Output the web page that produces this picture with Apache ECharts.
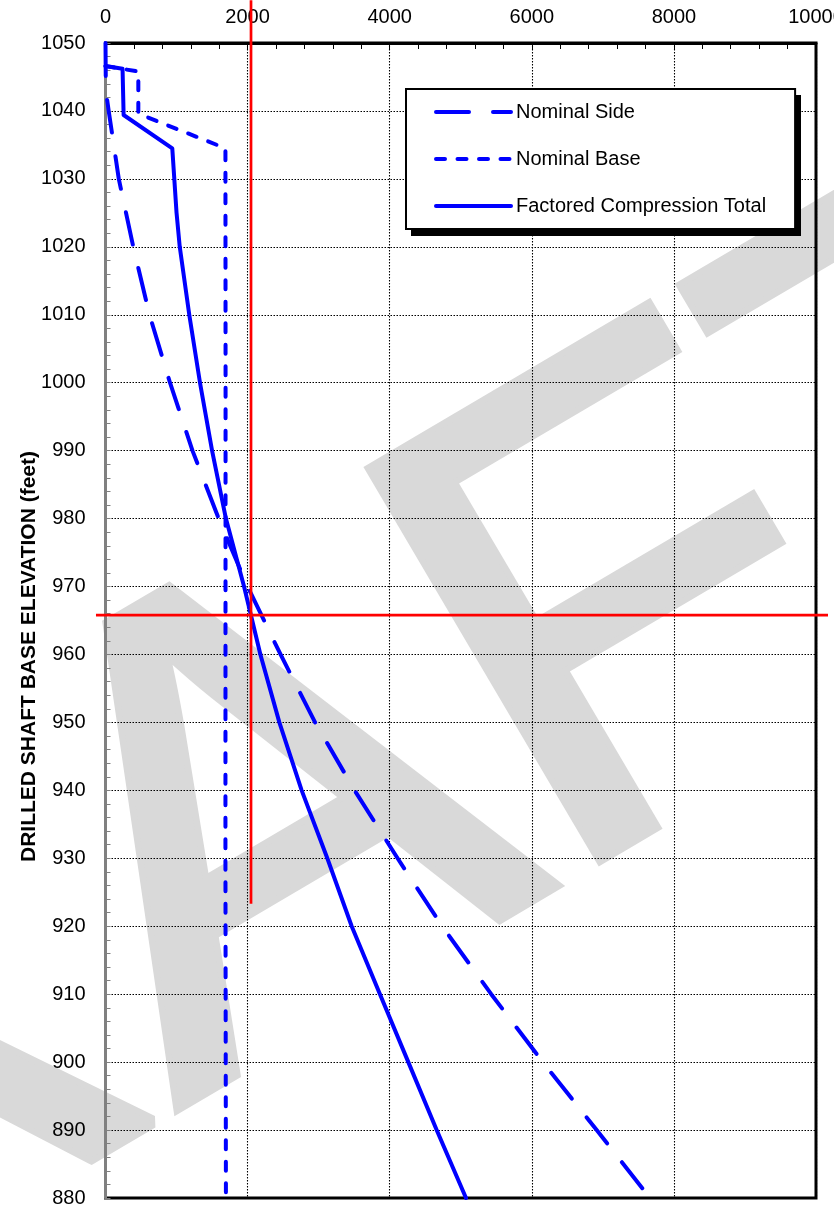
<!DOCTYPE html>
<html><head><meta charset="utf-8">
<script src="https://cdn.jsdelivr.net/npm/echarts@6/dist/echarts.min.js"></script>
<style>html,body{margin:0;padding:0;background:#fff}#c{width:834px;height:1207px}</style>
</head><body><div id="c"></div>
<script>
// ---- data (x = resistance, y = elevation in feet) ----
const sideElev  = [1050, 1043, 1040, 1030, 1020, 1010, 1000, 990, 980, 970, 960, 950, 940, 930, 920, 910, 900, 890, 880];
const sideVals  = [0, 5, 45, 187, 391, 619, 908, 1224, 1593, 1999, 2464, 2950, 3506, 4111, 4738, 5429, 6155, 6913, 7664];

const baseElev  = [1046.6, 1045.8, 1039.6, 1034.5, 1000, 930, 880];
const baseVals  = [0, 462, 462, 1688, 1690, 1688, 1695];

const totalElev = [1046.6, 1046.2, 1039.4, 1034.5, 1025, 1020, 1010, 1000, 990, 980, 970, 960, 950, 940, 930, 920, 910, 900, 890, 880];
const totalVals = [0, 240, 255, 940, 1000, 1045, 1179, 1330, 1500, 1695, 1950, 2180, 2447, 2761, 3122, 3465, 3863, 4262, 4661, 5074];

// red reference lines
const refVX = 2048, refVTop = 1056.3, refVBottom = 923.3;
const refHY = 965.8, refHLeft = -134, refHRight = 10169;

const xTicks = [0, 2000, 4000, 6000, 8000, 10000];
const yTicks = [880, 890, 900, 910, 920, 930, 940, 950, 960, 970, 980, 990, 1000, 1010, 1020, 1030, 1040, 1050];
const seriesNames = ['Nominal Side', 'Nominal Base', 'Factored Compression Total'];
const yTitle = 'DRILLED SHAFT BASE ELEVATION (feet)';
const watermark = 'DRAFT';

const pairs = (vals, elev) => vals.map((v, i) => [v, elev[i]]);
const FONT = "'Liberation Sans', Arial, sans-serif";
const BLUE = '#0000ff';
const RED = '#ff0000';
const GRID_LINE = {type: [1.5, 1.5], color: '#000', width: 1.1};

const chart = echarts.init(document.getElementById('c'), null, {renderer: 'canvas'});
const graphics = [
  {id: 'wm', type: 'text', z: -10, silent: true,
   x: 212, y: 877, rotation: 30.5 * Math.PI / 180,
   style: {text: watermark, fontSize: 655, fontFamily: FONT, fill: '#d9d9d9',
           stroke: '#d9d9d9', lineWidth: 13, lineJoin: 'miter',
           align: 'center', verticalAlign: 'middle'}},
  // legend drop shadow
  {id: 'legendShadow', type: 'rect', z: 3, silent: true, shape: {x: 411, y: 95, width: 390, height: 141}, style: {fill: '#000'}}
];
chart.setOption({
  animation: false,
  backgroundColor: '#ffffff',
  textStyle: {fontFamily: FONT},
  graphic: graphics,
  grid: {left: 105.5, right: 18, top: 43, bottom: 9, show: true, borderColor: '#000', borderWidth: 3,
         backgroundColor: 'transparent', containLabel: false, outerBoundsMode: 'none'},
  legend: {
    orient: 'vertical', left: 406, top: 89, z: 5,
    data: seriesNames,
    itemWidth: 75, itemHeight: 20, itemGap: 27,
    padding: [13, 29, 13, 28],
    backgroundColor: '#fff', borderColor: '#000', borderWidth: 2, borderRadius: 0,
    itemStyle: {opacity: 0},
    lineStyle: {width: 4, cap: 'round'},
    textStyle: {fontSize: 20, color: '#000', fontFamily: FONT},
    selectedMode: false
  },
  xAxis: {
    type: 'value', position: 'top', min: xTicks[0], max: xTicks[xTicks.length - 1], interval: 2000,
    axisLine: {show: true, onZero: false, lineStyle: {color: '#000', width: 3}},
    axisTick: {show: true, inside: true, length: 6, lineStyle: {color: '#000', width: 1}},
    minorTick: {show: true, splitNumber: 5, length: 6, lineStyle: {color: '#000', width: 1}},
    axisLabel: {fontSize: 20, color: '#000', margin: 16, fontFamily: FONT, formatter: v => String(v)},
    splitLine: {show: true, lineStyle: GRID_LINE}
  },
  yAxis: {
    type: 'value', min: yTicks[0], max: yTicks[yTicks.length - 1], interval: 10,
    name: yTitle, nameLocation: 'middle', nameGap: 66, nameMoveOverlap: false,
    nameTextStyle: {fontSize: 21, fontWeight: 'bold', color: '#000', fontFamily: FONT, padding: [0, 72, 0, 0]},
    axisLine: {show: true, onZero: false, lineStyle: {color: '#808080', width: 3}},
    axisTick: {show: true, inside: true, length: 5, lineStyle: {color: '#808080', width: 1}},
    minorTick: {show: true, splitNumber: 5, length: 5, lineStyle: {color: '#808080', width: 1}},
    axisLabel: {fontSize: 20, color: '#000', margin: 20, fontFamily: FONT, formatter: v => String(v)},
    splitLine: {show: true, lineStyle: GRID_LINE}
  },
  series: [
    {name: seriesNames[0], type: 'line', data: pairs(sideVals, sideElev), symbol: 'none', showSymbol: false,
     lineStyle: {color: BLUE, width: 4, type: [33, 24], cap: 'round', join: 'round'}, itemStyle: {color: BLUE}, z: 3},
    {name: seriesNames[1], type: 'line', data: pairs(baseVals, baseElev), symbol: 'none', showSymbol: false,
     lineStyle: {color: BLUE, width: 4, type: [9, 12.5], cap: 'round', join: 'round'}, itemStyle: {color: BLUE}, z: 3},
    {name: seriesNames[2], type: 'line', data: pairs(totalVals, totalElev), symbol: 'none', showSymbol: false,
     lineStyle: {color: BLUE, width: 4, type: 'solid', cap: 'round', join: 'round'}, itemStyle: {color: BLUE}, z: 3},
    {name: 'refV', type: 'line', data: [[refVX, refVTop], [refVX, refVBottom]], symbol: 'none', clip: false, silent: true,
     lineStyle: {color: RED, width: 2.7}, z: 4}
  ]
});
// horizontal reference line: endpoints lie outside the axis range, so map them through the chart's own scales
const pL = chart.convertToPixel({gridIndex: 0}, [refHLeft, refHY]);
const pR = chart.convertToPixel({gridIndex: 0}, [refHRight, refHY]);
chart.setOption({graphic: [{id: 'refH', type: 'line', z: 4, silent: true,
  shape: {x1: pL[0], y1: pL[1], x2: pR[0], y2: pR[1]}, style: {stroke: RED, lineWidth: 2.7}}]});
</script>
</body></html>
